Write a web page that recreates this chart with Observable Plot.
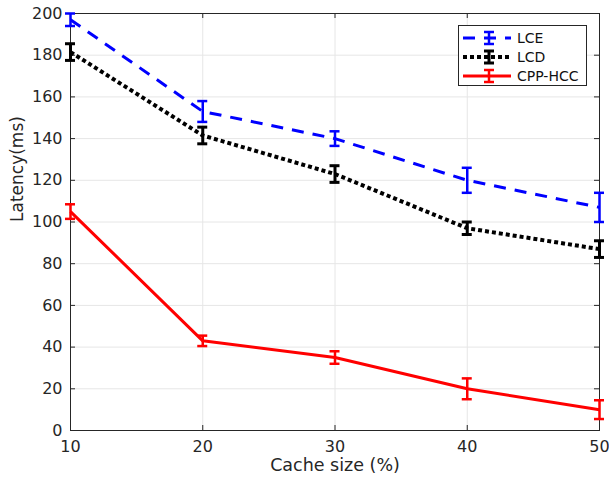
<!DOCTYPE html>
<html>
<head>
<meta charset="utf-8">
<script src="https://cdn.jsdelivr.net/npm/d3@7"></script>
<script src="https://cdn.jsdelivr.net/npm/@observablehq/plot@0.6"></script>
<style>
  html, body { margin: 0; padding: 0; background: #fff; }
  #wrap { position: relative; width: 609px; height: 478px; font-family: "DejaVu Sans", sans-serif; }
  #legend { position: absolute; left: 458px; top: 25px; width: 127px; height: 59px; background: #fff; border: 1px solid #262626; }
</style>
</head>
<body>
<div id="wrap"><div id="legend"></div></div>
<script>
const cacheSize = [10, 20, 30, 40, 50];
const xTicks = [10, 20, 30, 40, 50];
const yTicks = [0, 20, 40, 60, 80, 100, 120, 140, 160, 180, 200];
const seriesNames = ["LCE", "LCD", "CPP-HCC"];
const lceValues = [197, 153, 140, 120, 107];
const lceErrors = [3, 5, 3.5, 6, 7];
const lcdValues = [181.5, 141.5, 123, 97, 87];
const lcdErrors = [4, 4, 4, 3, 4];
const cppValues = [105, 43, 35, 20, 10];
const cppErrors = [3.5, 2.5, 3, 5, 4.5];

const styles = {
  "LCE": {stroke: "#0000ff", width: 3, dash: "12,9", barWidth: 2.5},
  "LCD": {stroke: "#000000", width: 4, dash: "4,3", barWidth: 3},
  "CPP-HCC": {stroke: "#ff0000", width: 3, dash: null, barWidth: 2.5}
};

const valuesBySeries = [lceValues, lcdValues, cppValues];
const errorsBySeries = [lceErrors, lcdErrors, cppErrors];
const rows = [];
seriesNames.forEach((s, i) => {
  cacheSize.forEach((x, j) => {
    rows.push({series: s, x, y: valuesBySeries[i][j], lo: valuesBySeries[i][j] - errorsBySeries[i][j], hi: valuesBySeries[i][j] + errorsBySeries[i][j]});
  });
});

const W = 609, H = 478;
const mL = 70, mR = 10, mT = 13, mB = 48;
const pxX = (50 - 10) / (W - mL - mR); // data units per px
const pxY = (200 - 0) / (H - mT - mB);
const capHalf = 5 * pxX;
const tickLenX = 5 * pxX;
const tickLenY = 5 * pxY;
const axisColor = "#262626";

const marks = [
  Plot.ruleX(xTicks, {x: d => d, stroke: "#e6e6e6", strokeWidth: 1}),
  Plot.ruleY(yTicks, {y: d => d, stroke: "#e6e6e6", strokeWidth: 1}),
  Plot.frame({stroke: axisColor, strokeWidth: 1}),
  // inward ticks
  Plot.ruleX(xTicks, {x: d => d, y1: 0, y2: tickLenY, stroke: axisColor}),
  Plot.ruleX(xTicks, {x: d => d, y1: 200, y2: 200 - tickLenY, stroke: axisColor}),
  Plot.ruleY(yTicks, {y: d => d, x1: 10, x2: 10 + tickLenX, stroke: axisColor}),
  Plot.ruleY(yTicks, {y: d => d, x1: 50, x2: 50 - tickLenX, stroke: axisColor}),
  Plot.axisX(xTicks, {tickSize: 0, tickPadding: 10, fontSize: 16, fill: axisColor, label: null}),
  Plot.axisY(yTicks, {tickSize: 0, tickPadding: 8, fontSize: 16, fill: axisColor, label: null}),
  Plot.text(["Cache size (%)"], {frameAnchor: "bottom", dy: 40, fontSize: 17.5, fill: axisColor}),
  Plot.text(["Latency(ms)"], {frameAnchor: "left", dx: -53, rotate: -90, fontSize: 17, fill: axisColor})
];

for (const s of seriesNames) {
  const st = styles[s];
  const data = rows.filter(r => r.series === s);
  marks.push(Plot.line(data, {x: "x", y: "y", stroke: st.stroke, strokeWidth: st.width, strokeDasharray: st.dash, strokeLinecap: "butt"}));
  marks.push(Plot.ruleX(data, {x: "x", y1: "lo", y2: "hi", stroke: st.stroke, strokeWidth: st.barWidth}));
  marks.push(Plot.ruleY(data, {y: "lo", x1: d => d.x - capHalf, x2: d => d.x + capHalf, stroke: st.stroke, strokeWidth: st.barWidth}));
  marks.push(Plot.ruleY(data, {y: "hi", x1: d => d.x - capHalf, x2: d => d.x + capHalf, stroke: st.stroke, strokeWidth: st.barWidth}));
}

const chart = Plot.plot({
  width: W, height: H,
  marginLeft: mL, marginRight: mR, marginTop: mT, marginBottom: mB,
  style: {fontFamily: "DejaVu Sans, sans-serif", background: "white", overflow: "visible"},
  x: {domain: [10, 50]},
  y: {domain: [0, 200]},
  marks
});
const wrap = document.getElementById("wrap");
wrap.insertBefore(chart, wrap.firstChild);

// Legend
const legend = d3.select("#legend");
seriesNames.forEach((s, i) => {
  const st = styles[s];
  const row = legend.append("div").style("position", "absolute").style("left", "3px").style("top", (3 + i * 19) + "px").style("height", "18px").style("display", "flex").style("align-items", "center");
  const svg = row.append("svg").attr("width", 50).attr("height", 18);
  svg.append("line").attr("x1", 1).attr("x2", 49).attr("y1", 9).attr("y2", 9)
    .attr("stroke", st.stroke).attr("stroke-width", st.width).attr("stroke-dasharray", st.dash);
  svg.append("line").attr("x1", 27).attr("x2", 27).attr("y1", 3).attr("y2", 15).attr("stroke", st.stroke).attr("stroke-width", st.barWidth);
  svg.append("line").attr("x1", 22).attr("x2", 32).attr("y1", 3).attr("y2", 3).attr("stroke", st.stroke).attr("stroke-width", st.barWidth);
  svg.append("line").attr("x1", 22).attr("x2", 32).attr("y1", 15).attr("y2", 15).attr("stroke", st.stroke).attr("stroke-width", st.barWidth);
  row.append("span").text(s).style("font-size", "14px").style("color", "#111").style("margin-left", "5px");
});
</script>
</body>
</html>
